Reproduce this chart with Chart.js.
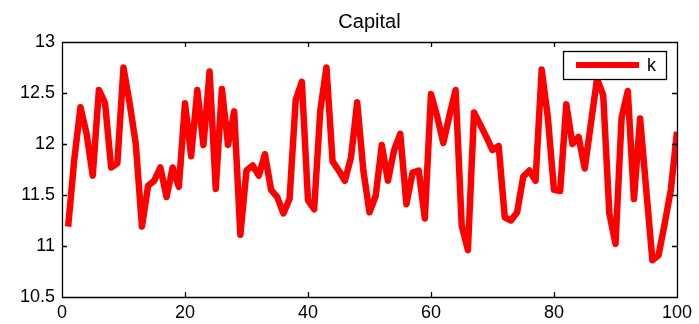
<!DOCTYPE html>
<html>
<head>
<meta charset="utf-8">
<title>Capital</title>
<script src="https://cdn.jsdelivr.net/npm/chart.js@4.4.1/dist/chart.umd.min.js"></script>
<style>
  html, body { margin: 0; padding: 0; background: #fff; }
  #wrap { width: 699px; height: 324px; }
</style>
</head>
<body>
<div id="wrap"><canvas id="myChart" width="699" height="324"></canvas></div>
<script>
// capital stock k, one value per period 1..100
const periods = [];
for (let i = 1; i <= 100; i++) periods.push(i);

const capital = [
  11.19, 11.85, 12.36, 12.10, 11.69, 12.53, 12.40, 11.77, 11.81, 12.75,
  12.40, 12.00, 11.19, 11.59, 11.64, 11.77, 11.48, 11.77, 11.58, 12.40,
  11.88, 12.53, 11.99, 12.71, 11.56, 12.54, 11.99, 12.32, 11.11, 11.74,
  11.79, 11.69, 11.90, 11.55, 11.48, 11.32, 11.46, 12.43, 12.61, 11.45,
  11.36, 12.33, 12.75, 11.83, 11.74, 11.64, 11.87, 12.41, 11.74, 11.33,
  11.49, 11.99, 11.64, 11.94, 12.10, 11.41, 11.72, 11.74, 11.27, 12.49,
  12.27, 12.01, 12.28, 12.53, 11.20, 10.96, 12.31, 12.19, 12.07, 11.94,
  11.98, 11.28, 11.25, 11.33, 11.68, 11.74, 11.64, 12.73, 12.26, 11.55,
  11.54, 12.39, 12.00, 12.07, 11.76, 12.20, 12.64, 12.48, 11.32, 11.02,
  12.26, 12.52, 11.46, 12.25, 11.55, 10.86, 10.91, 11.22, 11.55, 12.12
];

const xTicks = [0, 20, 40, 60, 80, 100];
const yTicks = [10.5, 11, 11.5, 12, 12.5, 13];

const FONT = 'Arial, "Liberation Sans", sans-serif';
Chart.defaults.color = '#000';
Chart.defaults.font.family = FONT;

// full box round the plot with inward ticks on all four sides, plus the legend
const matlabAxes = {
  id: 'matlabAxes',
  afterLayout(chart) {
    // centre the title over the plot rather than the whole canvas
    if (chart.titleBlock) {
      chart.titleBlock.left = chart.chartArea.left;
      chart.titleBlock.right = chart.chartArea.right;
    }
  },
  afterDatasetsDraw(chart) {
    const ctx = chart.ctx;
    const a = chart.chartArea;
    const xs = chart.scales.x, ys = chart.scales.y;
    const len = 5;
    ctx.save();
    ctx.strokeStyle = '#000';
    ctx.lineWidth = 1.3;
    ctx.beginPath();
    ctx.rect(Math.round(a.left) + 0.5, Math.round(a.top) + 0.5,
             Math.round(a.right - a.left), Math.round(a.bottom - a.top));
    xTicks.forEach(v => {
      const px = Math.round(xs.getPixelForValue(v)) + 0.5;
      ctx.moveTo(px, a.bottom); ctx.lineTo(px, a.bottom - len);
      ctx.moveTo(px, a.top); ctx.lineTo(px, a.top + len);
    });
    yTicks.forEach(v => {
      const py = Math.round(ys.getPixelForValue(v)) + 0.5;
      ctx.moveTo(a.left, py); ctx.lineTo(a.left + len, py);
      ctx.moveTo(a.right, py); ctx.lineTo(a.right - len, py);
    });
    ctx.stroke();

    // legend box, top right inside the axes
    const ds = chart.data.datasets[0];
    const bx = 563, by = 51, bw = 103, bh = 28;
    ctx.fillStyle = '#fff';
    ctx.fillRect(bx, by, bw, bh);
    ctx.lineWidth = 1.3;
    ctx.strokeRect(bx + 0.5, by + 0.5, bw, bh);
    ctx.strokeStyle = ds.borderColor;
    ctx.lineWidth = 6;
    ctx.beginPath();
    ctx.moveTo(bx + 13, by + 14);
    ctx.lineTo(bx + 76, by + 14);
    ctx.stroke();
    ctx.fillStyle = '#000';
    ctx.font = '18px ' + FONT;
    ctx.textBaseline = 'alphabetic';
    ctx.fillText(ds.label, bx + 84, by + 20);
    ctx.restore();
  }
};

new Chart(document.getElementById('myChart'), {
  type: 'line',
  data: {
    labels: periods,
    datasets: [{
      label: 'k',
      data: periods.map((p, i) => ({ x: p, y: capital[i] })),
      borderColor: '#ff0000',
      backgroundColor: '#ff0000',
      borderWidth: 6.5,
      borderJoinStyle: 'round',
      pointRadius: 0,
      tension: 0,
      clip: 0
    }]
  },
  options: {
    responsive: false,
    animation: false,
    layout: { padding: { left: 0, right: 22, top: 0, bottom: 0 } },
    plugins: {
      legend: { display: false },
      tooltip: { enabled: false },
      title: {
        display: true,
        text: 'Capital',
        color: '#000',
        font: { size: 20, weight: 'normal', family: FONT },
        padding: { top: 10, bottom: 8 }
      }
    },
    scales: {
      x: {
        type: 'linear',
        min: 0, max: 100,
        afterBuildTicks: s => { s.ticks = xTicks.map(v => ({ value: v })); },
        afterFit: s => { s.height = 27; },
        grid: { display: false, drawTicks: false },
        border: { display: false },
        ticks: { font: { size: 18 }, padding: 5, maxRotation: 0, callback: v => String(v) }
      },
      y: {
        min: 10.5, max: 13,
        afterBuildTicks: s => { s.ticks = yTicks.map(v => ({ value: v })); },
        afterFit: s => { s.width = 62; },
        grid: { display: false, drawTicks: false },
        border: { display: false },
        ticks: { font: { size: 18 }, padding: 7, callback: v => String(v) }
      }
    }
  },
  plugins: [matlabAxes]
});
</script>
</body>
</html>
